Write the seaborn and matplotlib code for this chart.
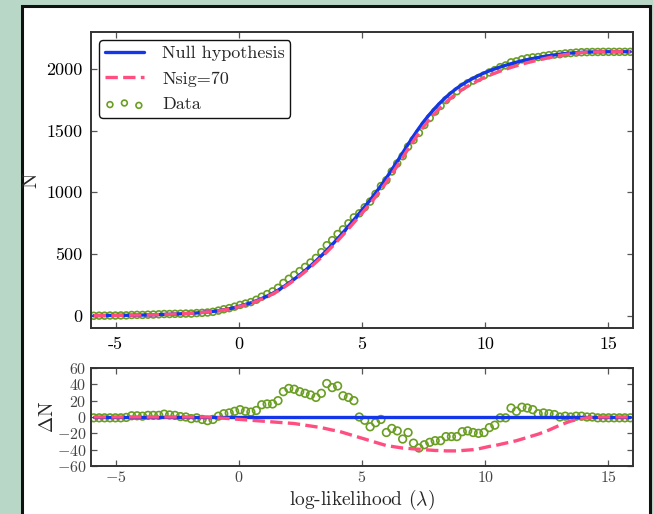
import numpy as np
import pandas as pd
import matplotlib
matplotlib.use("Agg")
import matplotlib.pyplot as plt
from matplotlib.patches import Rectangle
import seaborn as sns

# Bin centres of the log-likelihood distribution
x_lambda = [
    -5.89, -5.67, -5.45, -5.23, -5.01, -4.79, -4.57, -4.35, -4.13, -3.91,
    -3.69, -3.47, -3.25, -3.03, -2.81, -2.59, -2.37, -2.15, -1.93, -1.71,
    -1.49, -1.27, -1.05, -0.83, -0.61, -0.39, -0.17, 0.05, 0.27, 0.49,
    0.71, 0.93, 1.15, 1.37, 1.59, 1.81, 2.03, 2.25, 2.47, 2.69,
    2.91, 3.13, 3.35, 3.57, 3.79, 4.01, 4.23, 4.45, 4.67, 4.89,
    5.11, 5.33, 5.55, 5.77, 5.99, 6.21, 6.43, 6.65, 6.87, 7.09,
    7.31, 7.53, 7.75, 7.97, 8.19, 8.41, 8.63, 8.85, 9.07, 9.29,
    9.51, 9.73, 9.95, 10.17, 10.39, 10.61, 10.83, 11.05, 11.27, 11.49,
    11.71, 11.93, 12.15, 12.37, 12.59, 12.81, 13.03, 13.25, 13.47, 13.69,
    13.91, 14.13, 14.35, 14.57, 14.79, 15.01, 15.23, 15.45, 15.67, 15.89,
]

# Cumulative count expected under the null hypothesis
null_n = [
    0, 1, 1, 2, 2, 3, 3, 4, 5, 5,
    6, 7, 9, 10, 11, 13, 15, 17, 19, 22,
    26, 30, 34, 40, 48, 56, 66, 78, 91, 104,
    121, 139, 159, 181, 206, 234, 264, 296, 330, 366,
    404, 444, 486, 530, 576, 624, 674, 725, 777, 830,
    883, 937, 994, 1054, 1117, 1183, 1251, 1320, 1389, 1456,
    1520, 1580, 1634, 1684, 1730, 1772, 1810, 1844, 1874, 1901,
    1925, 1947, 1967, 1985, 2001, 2016, 2030, 2043, 2055, 2066,
    2076, 2085, 2093, 2101, 2108, 2114, 2120, 2125, 2129, 2132,
    2135, 2137, 2138, 2139, 2140, 2140, 2140, 2140, 2140, 2140,
]

# Difference to the null hypothesis: signal model with Nsig=70
nsig_dn = [
    0, 0, 0, 0, 0, 0, 0, 0, 0, 0,
    0, 0, 0, 0, 0, 0, 0, 0, 0, 0,
    0, 0, -0.5, -1, -1.5, -2, -2.5, -3, -3.5, -4,
    -4.5, -5, -5.5, -6, -6.5, -7, -7.5, -8, -9, -10,
    -11, -12, -13, -14.5, -16, -17, -19, -21, -23, -25,
    -27, -29, -31, -33, -35, -36, -37, -38, -38.5, -39,
    -39.5, -40, -40.5, -41, -41, -41.5, -41.5, -41.5, -41, -40.5,
    -40, -39, -37.5, -36, -35, -33.5, -32, -30.5, -29, -27,
    -25, -23, -21, -18.5, -16, -13, -10, -7.5, -5, -3.5,
    -2, -1, -0.5, 0, 0, 0, 0, 0, 0, 0,
]

# Difference to the null hypothesis: observed data
data_dn = [
    -1, -1, -1, -1, -1, -1, -0.5, 1.5, 1.5, 1,
    2, 2, 2, 3.5, 2.5, 2, 0.5, 0, -2, -1,
    -3, -4.5, -3, 1, 4, 5, 7, 9, 7, 6,
    8, 15, 16, 16, 20, 31, 35, 34, 31, 29,
    27, 24, 29, 41, 36, 38, 26, 24, 20, 0,
    -4, -12, -7, -3, -19, -14, -17, -27, -19, -32,
    -38, -34, -31, -29, -29, -24, -24, -24, -18, -17,
    -19, -20, -19, -13, -10, -1, -1, 11, 7, 12,
    11, 9, 4, 5, 4, 3, 0, 1, 0, 1,
    1, 0, 0, -1, -1, -1, -1, -1, -1, -1,
]

df = pd.DataFrame({
    "lam": x_lambda,
    "null": null_n,
    "nsig_dn": nsig_dn,
    "data_dn": data_dn,
})
df["nsig"] = df["null"] + df["nsig_dn"]
df["data"] = df["null"] + df["data_dn"]
df["zero"] = 0.0

BLUE = "#1236e8"
PINK = "#ff4f80"
GREEN = "#6a9e22"
FRAME = "#333333"

sns.set_theme(style="white")
plt.rcParams.update({
    "font.family": ["serif"],
    "font.serif": ["cmr10", "DejaVu Serif"],
    "mathtext.fontset": "cm",
    "axes.formatter.use_mathtext": True,
    "axes.unicode_minus": False,
    "xtick.direction": "in",
    "ytick.direction": "in",
    "xtick.top": True,
    "ytick.right": True,
    "xtick.bottom": True,
    "ytick.left": True,
})

W, H = 653, 514
fig = plt.figure(figsize=(W / 100, H / 100), dpi=100, facecolor="#b9d7c7")

# White page with a dark border behind both panels
page = Rectangle((22 / W, -0.05), (650 - 22) / W, 1 - 6 / H + 0.05,
                 transform=fig.transFigure, facecolor="white",
                 edgecolor="#111111", linewidth=2.2, zorder=0)
fig.patches.append(page)

ax = fig.add_axes([91 / W, 1 - 328 / H, (633 - 91) / W, (328 - 32) / H])
ax2 = fig.add_axes([91 / W, 1 - 466 / H, (633 - 91) / W, (466 - 368) / H])

# Upper panel: cumulative counts
sns.lineplot(data=df, x="lam", y="null", ax=ax, color=BLUE, linewidth=2.4,
             label="Null hypothesis", zorder=3)
sns.lineplot(data=df, x="lam", y="nsig", ax=ax, color=PINK, linewidth=2.4,
             linestyle="--", dashes=(3.2, 2.6), label="Nsig=70", zorder=4)
sns.scatterplot(data=df, x="lam", y="data", ax=ax, marker="o", s=24,
                facecolor="none", edgecolor=GREEN, linewidth=1.2,
                label="Data", zorder=2)

ax.set_xlim(-6, 16)
ax.set_ylim(-100, 2300)
ax.set_xticks([-5, 0, 5, 10, 15])
ax.set_xticklabels(["-5", "0", "5", "10", "15"])
ax.set_yticks([0, 500, 1000, 1500, 2000])
ax.set_yticklabels(["0", "500", "1000", "1500", "2000"])
ax.set_xlabel("")
ax.set_ylabel("N", fontsize=15, labelpad=4)
ax.tick_params(labelsize=13, colors="black", length=4, width=0.9,
               pad=6)
ax.tick_params(axis="both", which="both", color="#555555")

handles, labels = ax.get_legend_handles_labels()
leg = ax.legend(handles, labels, loc="upper left", fontsize=13,
                scatterpoints=3, markerscale=0.85, frameon=True,
                fancybox=True, borderpad=0.3, labelspacing=0.55,
                handlelength=2.2, handletextpad=1.0, borderaxespad=0.45)
leg.get_frame().set_edgecolor("#111111")
leg.get_frame().set_linewidth(1.0)
leg.get_frame().set_alpha(1.0)

# Lower panel: differences to the null hypothesis
sns.lineplot(data=df, x="lam", y="zero", ax=ax2, color=BLUE, linewidth=2.4,
             zorder=3)
sns.lineplot(data=df, x="lam", y="nsig_dn", ax=ax2, color=PINK, linewidth=2.4,
             linestyle="--", dashes=(3.2, 2.6), zorder=4)
sns.scatterplot(data=df, x="lam", y="data_dn", ax=ax2, marker="o", s=30,
                facecolor="none", edgecolor=GREEN, linewidth=1.2, zorder=2)

ax2.set_xlim(-6, 16)
ax2.set_ylim(-60, 60)
ax2.set_xticks([-5, 0, 5, 10, 15])
ax2.set_xticklabels([r"$-5$", r"$0$", r"$5$", r"$10$", r"$15$"])
ax2.set_yticks([-60, -40, -20, 0, 20, 40, 60])
ax2.set_yticklabels([r"$-60$", r"$-40$", r"$-20$", r"$0$", r"$20$",
                     r"$40$", r"$60$"])
ax2.set_xlabel(r"log-likelihood $(\lambda)$", fontsize=14, labelpad=2)
ax2.set_ylabel(r"$\Delta$N", fontsize=14, labelpad=0)
ax2.tick_params(labelsize=11.5, labelcolor="#444444", length=4, width=0.9,
                color="#555555", pad=3)

for a in (ax, ax2):
    a.set_facecolor("white")
    for sp in a.spines.values():
        sp.set_color(FRAME)
        sp.set_linewidth(1.4)
    a.set_zorder(1)

fig.savefig("out.png", dpi=100, facecolor=fig.get_facecolor())
